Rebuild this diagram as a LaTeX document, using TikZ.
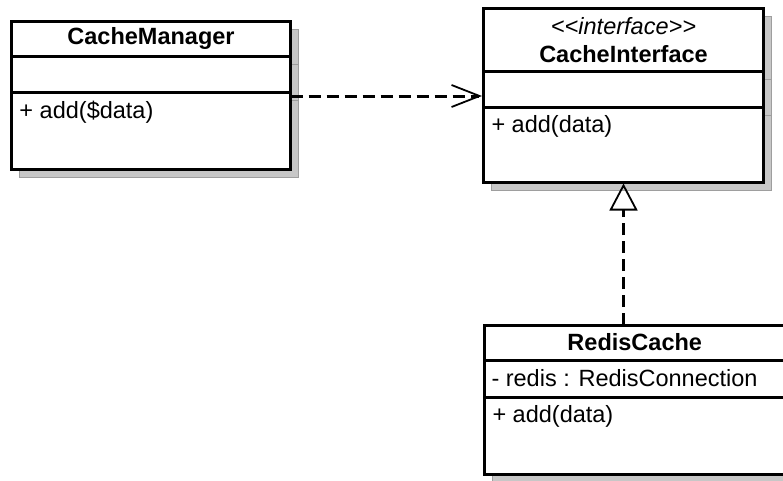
\documentclass[tikz,border=0pt]{standalone}
\usepackage{fontspec}
\setmainfont{Liberation Sans}
\usetikzlibrary{arrows.meta,positioning,shadows}
\newcommand\stereotype[1]{\textit{<\kern0pt<#1>\kern0pt>}}

\begin{document}
\begin{tikzpicture}[
  x=1pt,y=-1pt,
  every node/.style={font=\fontsize{23.5}{28}\selectfont,inner sep=0pt,outer sep=0pt},
  part/.style={draw,line width=3pt,fill=white,
    drop shadow={shadow xshift=8pt,shadow yshift=-8pt,fill=black!22,draw=black!38,line width=1pt,opacity=1}},
  mgrpart/.style={part,minimum width=279pt},
  ifpart/.style={part,minimum width=280pt},
  redispart/.style={part,minimum width=300.5pt},
  member/.style={anchor=west},
  dep/.style={line width=3pt,dash pattern=on 12pt off 6pt},
  uses/.style={dep,shorten >=1.5pt,-{Straight Barb[length=28pt,width=22pt,line width=1.8pt]}},
  realizes/.style={dep,shorten >=1.5pt,-{Triangle[open,length=27pt,width=28pt,line width=1.8pt]}}
]
\useasboundingbox (0,0) rectangle (783,480);

% CacheManager
\node[mgrpart,minimum height=34.5pt,anchor=north west] (mgrHead) at (11.5,21.5) {\textbf{CacheManager}};
\node[mgrpart,minimum height=36pt,below=0pt of mgrHead] (mgrAttr) {};
\node[mgrpart,minimum height=77.5pt,below=0pt of mgrAttr] (mgrOps) {};
\node[member] (mgrAdd) at ([xshift=8pt,yshift=-20pt]mgrOps.north west) {+ add(\$data)};

% CacheInterface
\node[ifpart,minimum height=62.5pt,anchor=north west,align=center] (ifHead) at (483.5,8.5)
  {\stereotype{interface}\\\textbf{CacheInterface}};
\node[ifpart,minimum height=36pt,below=0pt of ifHead] (ifAttr) {};
\node[ifpart,minimum height=75pt,below=0pt of ifAttr] (ifOps) {};
\node[member] (ifAdd) at ([xshift=8pt,yshift=-19pt]ifOps.north west) {+ add(data)};

% RedisCache
\node[redispart,minimum height=35pt,anchor=north west] (redisHead) at (484.5,325) {\textbf{RedisCache}};
\node[redispart,minimum height=37pt,below=0pt of redisHead] (redisAttr) {};
\node[redispart,minimum height=77.5pt,below=0pt of redisAttr] (redisOps) {};
\node[member] (redisConn) at ([xshift=7pt]redisAttr.west) {- redis : RedisConnection};
\node[member] (redisAdd) at ([xshift=8pt,yshift=-19pt]redisOps.north west) {+ add(data)};

% dependency and realization
\coordinate (useStart) at ([yshift=-4pt]mgrOps.north east);
\draw[uses] (useStart) -- (useStart -| ifAttr.west);
\draw[realizes] (redisHead.north -| ifOps.south) -- (ifOps.south);
\end{tikzpicture}
\end{document}
